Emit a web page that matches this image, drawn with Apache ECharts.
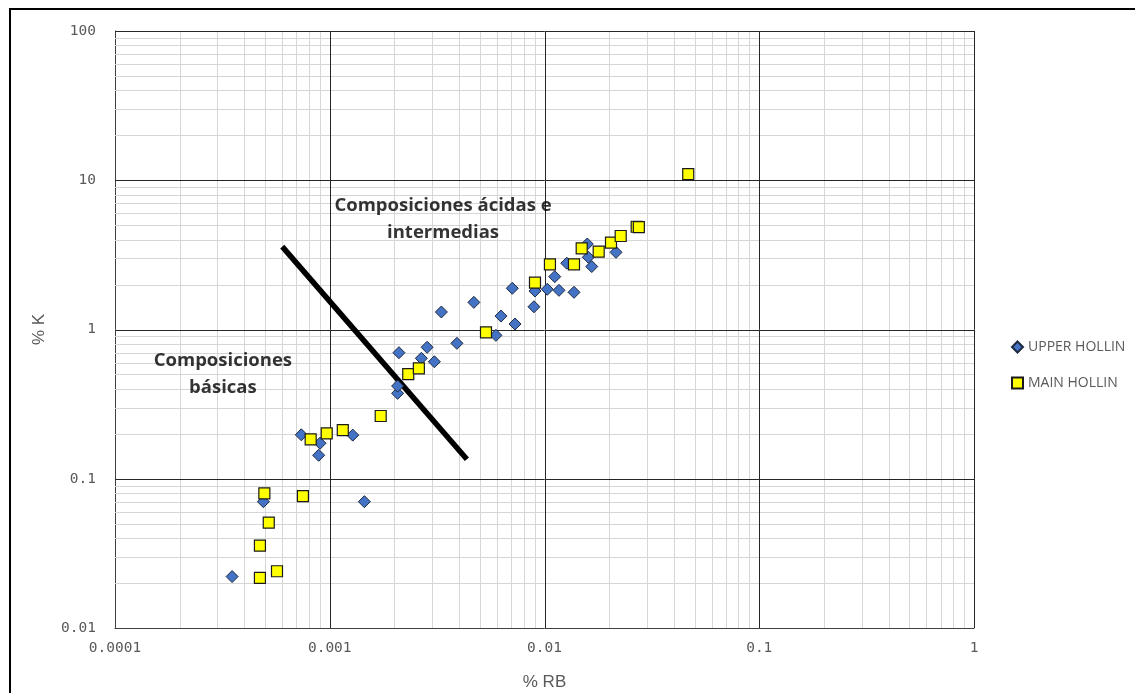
<!DOCTYPE html>
<html>
<head>
<meta charset="utf-8">
<script src="https://cdn.jsdelivr.net/npm/echarts@6/dist/echarts.min.js"></script>
<style>
html,body{margin:0;padding:0;background:#fff;}
#c{width:1135px;height:693px;}
</style>
</head>
<body>
<div id="c"></div>
<script>
// ---- data ----
const xTickLabels = ['0.0001', '0.001', '0.01', '0.1', '1'];
const yTickLabels = ['0.01', '0.1', '1', '10', '100'];
const upperHollinRb = [0.000351, 0.000491, 0.00145, 0.000737, 0.000901, 0.000888, 0.00128, 0.00207, 0.00207, 0.0021, 0.00267, 0.00284, 0.00307, 0.00391, 0.00331, 0.00469, 0.00594, 0.00627, 0.00729, 0.00708, 0.00893, 0.00903, 0.0103, 0.01168, 0.01372, 0.01116, 0.0127, 0.01582, 0.016, 0.0166, 0.02153];
const upperHollinK  = [0.0221, 0.0702, 0.0702, 0.197, 0.173, 0.1436, 0.196, 0.3735, 0.418, 0.699, 0.641, 0.760, 0.608, 0.808, 1.31, 1.52, 0.914, 1.23, 1.089, 1.888, 1.42, 1.81, 1.86, 1.83, 1.775, 2.26, 2.78, 3.74, 3.05, 2.64, 3.29];
const mainHollinRb = [0.000496, 0.00075, 0.00052, 0.000473, 0.000568, 0.000473, 0.000815, 0.000968, 0.00115, 0.001727, 0.00232, 0.0026, 0.00534, 0.00903, 0.0106, 0.01372, 0.0149, 0.01788, 0.0204, 0.02264, 0.02687, 0.0275, 0.0467];
const mainHollinK  = [0.0799, 0.0766, 0.0508, 0.0356, 0.024, 0.0217, 0.1838, 0.2016, 0.212, 0.2633, 0.503, 0.5496, 0.958, 2.06, 2.73, 2.73, 3.50, 3.32, 3.82, 4.23, 4.88, 4.85, 11.0];
const dividerRb = [0.000601, 0.00435];
const dividerK  = [3.59, 0.135];
const annotationText = ['Composiciones ácidas e\nintermedias', 'Composiciones\nbásicas'];
const annotationRb = [0.00337, 0.000318];
const annotationK  = [5.45, 0.5];

// ---- build ----
const zip = (a, b) => a.map((v, i) => [v, b[i]]);
const xMin = 0.0001, xMax = 1, yMin = 0.01, yMax = 100;
function minorValues(lo, hi) {
  const out = [];
  for (let e = Math.round(Math.log10(lo)); e < Math.round(Math.log10(hi)); e++) {
    for (let m = 2; m <= 9; m++) out.push(+(m * Math.pow(10, e)).toPrecision(6));
  }
  return out;
}
function majorValues(lo, hi) {
  const out = [];
  for (let e = Math.round(Math.log10(lo)) + 1; e <= Math.round(Math.log10(hi)); e++) out.push(+Math.pow(10, e).toPrecision(6));
  return out;
}
const minorX = minorValues(xMin, xMax), minorY = minorValues(yMin, yMax);
const majorX = majorValues(xMin, xMax), majorY = majorValues(yMin, yMax);

function gridSeries(xs, ys, color, z) {
  const data = xs.map(v => [v, yMin, 0]).concat(ys.map(v => [xMin, v, 1]));
  return {
    type: 'custom', silent: true, z: z, clip: false,
    data: data,
    renderItem: (params, api) => {
      const vert = api.value(2) === 0;
      const v = vert ? api.value(0) : api.value(1);
      const p1 = vert ? api.coord([v, yMin]) : api.coord([xMin, v]);
      const p2 = vert ? api.coord([v, yMax]) : api.coord([xMax, v]);
      const r = n => Math.round(n) + 0.5;
      return {
        type: 'line',
        shape: vert ? {x1: r(p1[0]), y1: p1[1], x2: r(p2[0]), y2: p2[1]}
                    : {x1: p1[0], y1: r(p1[1]), x2: p2[0], y2: r(p2[1])},
        style: {stroke: color, lineWidth: 1}
      };
    }
  };
}

const chart = echarts.init(document.getElementById('c'), null, {renderer: 'canvas'});
const labelColor = '#595959';

chart.setOption({
  animation: false,
  backgroundColor: '#ffffff',
  graphic: [{
    type: 'rect', shape: {x: 10, y: 9, width: 1140, height: 700},
    style: {fill: 'none', stroke: '#000', lineWidth: 2}, silent: true, z: 0
  }],
  grid: {left: 115, top: 31, right: 161, bottom: 65, containLabel: false, outerBoundsMode: 'none'},
  legend: {
    orient: 'vertical', left: 1006, top: 335, itemGap: 22,
    itemWidth: 11, itemHeight: 11,
    textStyle: {color: labelColor, fontSize: 14, fontFamily: 'Open Sans, sans-serif'},
    data: [
      {name: 'UPPER HOLLIN', icon: 'diamond'},
      {name: 'MAIN HOLLIN', icon: 'rect'}
    ]
  },
  xAxis: {
    type: 'log', logBase: 10, min: xMin, max: xMax,
    name: '% RB', nameLocation: 'middle', nameGap: 46,
    nameTextStyle: {color: labelColor, fontSize: 17, fontFamily: 'Liberation Sans, Arial, sans-serif'},
    axisLine: {show: true, onZero: false, lineStyle: {color: '#404040', width: 1}},
    axisTick: {show: false},
    axisLabel: {
      color: labelColor, fontSize: 14.5, margin: 13,
      fontFamily: 'DejaVu Sans Mono, monospace',
      formatter: v => xTickLabels[Math.round(Math.log10(v) + 4)]
    },
    splitLine: {show: false}
  },
  yAxis: {
    type: 'log', logBase: 10, min: yMin, max: yMax,
    name: '% K', nameLocation: 'middle', nameGap: 67, nameRotate: 90,
    nameTextStyle: {color: labelColor, fontSize: 17, fontFamily: 'Liberation Sans, Arial, sans-serif'},
    axisLine: {show: true, onZero: false, lineStyle: {color: '#404040', width: 1}},
    axisTick: {show: false},
    axisLabel: {
      color: labelColor, fontSize: 14.5, margin: 19,
      fontFamily: 'DejaVu Sans Mono, monospace',
      formatter: v => yTickLabels[Math.round(Math.log10(v) + 2)]
    },
    splitLine: {show: false}
  },
  series: [
    gridSeries(minorX, minorY, '#d6d6d6', 1),
    gridSeries(majorX, majorY, '#262626', 1.5),
    {
      type: 'line', data: zip(dividerRb, dividerK), z: 2, silent: true,
      showSymbol: false, symbol: 'none',
      lineStyle: {color: '#000', width: 5.5, cap: 'butt'}
    },
    {
      type: 'scatter', data: annotationRb.map((v, i) => ({value: [v, annotationK[i]], label: {formatter: annotationText[i]}})),
      symbolSize: 0, silent: true, z: 5,
      label: {
        show: true, position: 'inside', align: 'center', verticalAlign: 'middle',
        color: '#000', fontSize: 18.5, fontWeight: 'bold', lineHeight: 27,
        fontFamily: 'Open Sans, sans-serif'
      }
    },
    {
      name: 'UPPER HOLLIN', type: 'scatter', symbol: 'diamond', symbolSize: 12, z: 3,
      data: zip(upperHollinRb, upperHollinK),
      itemStyle: {color: '#4472C4', borderColor: '#1e2a40', borderWidth: 1, opacity: 1}
    },
    {
      name: 'MAIN HOLLIN', type: 'scatter', symbol: 'rect', symbolSize: 11, z: 4,
      data: zip(mainHollinRb, mainHollinK),
      itemStyle: {color: '#FFFF00', borderColor: '#1a1a1a', borderWidth: 1.2, opacity: 1}
    }
  ]
});
</script>
</body>
</html>
